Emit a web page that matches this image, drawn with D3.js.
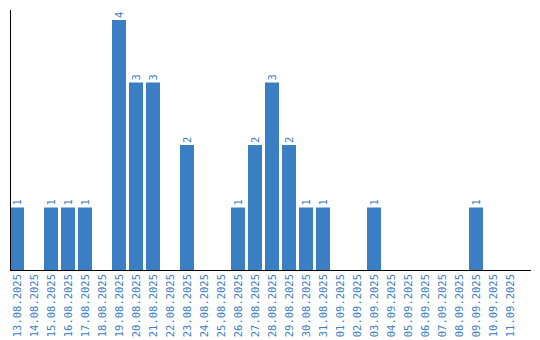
<!DOCTYPE html>
<html>
<head>
<meta charset="utf-8">
<script src="https://cdn.jsdelivr.net/npm/d3@7"></script>
<style>
  body { margin: 0; background: #fff; }
  text { font-family: "DejaVu Sans Mono", monospace; }
</style>
</head>
<body>
<script>
// dates shown on the x axis
const dates = [
  "13.08.2025", "14.08.2025", "15.08.2025", "16.08.2025", "17.08.2025",
  "18.08.2025", "19.08.2025", "20.08.2025", "21.08.2025", "22.08.2025",
  "23.08.2025", "24.08.2025", "25.08.2025", "26.08.2025", "27.08.2025",
  "28.08.2025", "29.08.2025", "30.08.2025", "31.08.2025", "01.09.2025",
  "02.09.2025", "03.09.2025", "04.09.2025", "05.09.2025", "06.09.2025",
  "07.09.2025", "08.09.2025", "09.09.2025", "10.09.2025", "11.09.2025"
];
// count per day
const counts = [1, 0, 1, 1, 1, 0, 4, 3, 3, 0, 2, 0, 0, 1, 2, 3, 2, 1, 1, 0, 0, 1, 0, 0, 0, 0, 0, 1, 0, 0];

const blue = "#3a7ec3";
const w = 540, h = 340;
const left = 10, base = 270;

const svg = d3.select("body").append("svg")
  .attr("width", w)
  .attr("height", h);

const x = d3.scaleBand()
  .domain(dates)
  .range([left, 517])
  .paddingInner(3 / 17)
  .paddingOuter(0);

const y = d3.scaleLinear()
  .domain([0, d3.max(counts)])
  .range([base, 20]);

const data = dates.map((d, i) => ({ date: d, value: counts[i] }));

svg.selectAll("rect")
  .data(data.filter(d => d.value > 0))
  .enter()
  .append("rect")
  .attr("x", d => x(d.date))
  .attr("y", d => y(d.value))
  .attr("width", x.bandwidth())
  .attr("height", d => base - y(d.value))
  .attr("fill", blue);

// value labels above bars
svg.selectAll("text.val")
  .data(data.filter(d => d.value > 0))
  .enter()
  .append("text")
  .attr("class", "val")
  .attr("transform", d => `translate(${x(d.date) + x.bandwidth() / 2 + 4},${y(d.value) - 2}) rotate(-90)`)
  .attr("font-size", 10.5)
  .attr("fill", blue)
  .text(d => d.value);

// x axis labels
const xAxis = d3.axisBottom(x).tickSize(0).tickPadding(0);
const gx = svg.append("g")
  .attr("transform", `translate(0,${base})`)
  .call(xAxis);
gx.select(".domain").remove();
gx.selectAll("text")
  .attr("font-size", 10.5)
  .attr("font-family", "DejaVu Sans Mono, monospace")
  .attr("fill", blue)
  .attr("text-anchor", "end")
  .attr("dy", null)
  .attr("y", 0)
  .attr("transform", "translate(3.5,4) rotate(-90)");

// axis lines
svg.append("line")
  .attr("x1", left).attr("x2", 531)
  .attr("y1", base + 0.5).attr("y2", base + 0.5)
  .attr("stroke", "#000");
svg.append("line")
  .attr("x1", left + 0.5).attr("x2", left + 0.5)
  .attr("y1", 10).attr("y2", base)
  .attr("stroke", "#000");
</script>
</body>
</html>
